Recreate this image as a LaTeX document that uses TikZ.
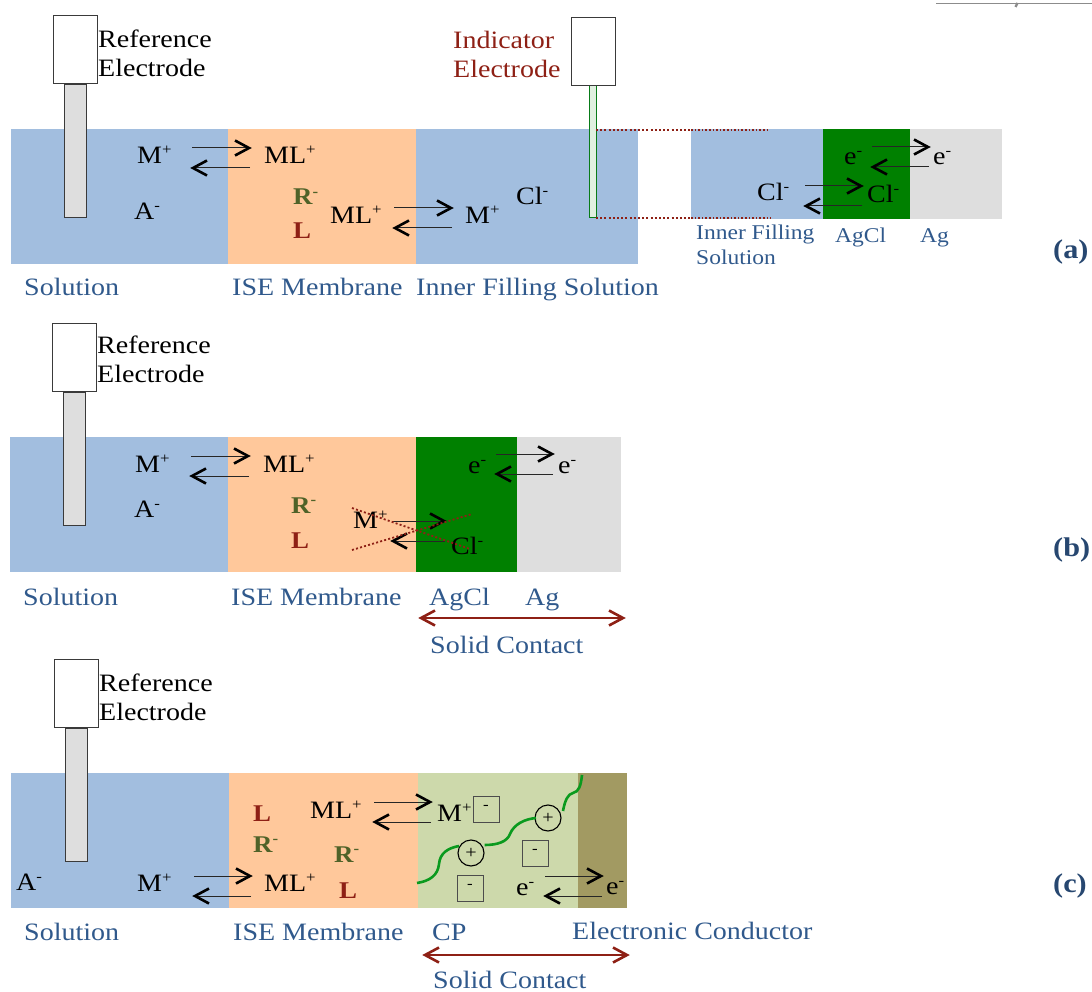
\documentclass[tikz,border=0pt]{standalone}
\usepackage{fontspec}
\setmainfont[FakeStretch=1.12]{Liberation Serif}
\definecolor{bandblue}{HTML}{A2BEDF}
\definecolor{bandorange}{HTML}{FFC89B}
\definecolor{bandgreen}{HTML}{008000}
\definecolor{bandgray}{HTML}{DEDEDE}
\definecolor{bandcp}{HTML}{CDD9AB}
\definecolor{bandolive}{HTML}{A29A62}
\definecolor{lblblue}{HTML}{30598C}
\definecolor{darkred}{HTML}{8E2015}
\definecolor{rgreen}{HTML}{4F6228}
\definecolor{curvegreen}{HTML}{0A9A1E}
\definecolor{inkgray}{HTML}{3A3A3A}
\newcommand{\ionsup}[1]{\raisebox{0.36em}{\fontsize{15}{15}\selectfont #1}}
\newcommand{\T}[5]{\node[txt,#2] (#1) at (#3,#4) {#5};}
% chevron head: coordinate, direction (-1 = points right, 1 = points left), style
\newcommand{\chev}[3]{\draw[#3] ([shift={(#2*14,-7.5)}]#1) -- (#1) -- ([shift={(#2*14,7.5)}]#1);}
\newcommand{\rxn}[5]{%
  \coordinate (#1-a) at (#2,#4); \coordinate (#1-b) at (#3,#4);
  \coordinate (#1-c) at (#3+1,#5); \coordinate (#1-d) at (#2+1,#5);
  \draw[eqline] (#1-a) -- (#1-b);
  \chev{#1-b}{-1}{eqhead}
  \draw[eqline] (#1-c) -- (#1-d);
  \chev{#1-d}{1}{eqhead}}
\newcommand{\electrode}[5]{%
  \node[headbox,minimum width=44pt,minimum height=68pt,anchor=north west] (#1-head) at (#2,#3) {};
  \node[stembox,minimum width=22pt,minimum height=#4pt,anchor=north] (#1-stem) at (#1-head.south) {};
  \node[lbltxt,text=black,anchor=west,align=left,font=\fontsize{25}{29}\selectfont] (#1-label) at (#2+45,#3+#5) {Reference\\Electrode};}
\newcommand{\minusbox}[3]{\node[chargebox] (#1) at (#2,#3) {\raisebox{3pt}{\fontsize{15}{15}\selectfont -}};}
\newcommand{\plusring}[3]{\node[chargering] (#1) at (#2,#3) {\fontsize{18}{18}\selectfont +};}
\tikzset{
  txt/.style={anchor=base west,inner sep=0pt,font=\fontsize{25}{29}\selectfont,text=black},
  lbltxt/.style={anchor=base west,inner sep=0pt,font=\fontsize{25}{29}\selectfont,text=lblblue},
  lblsmall/.style={lbltxt,font=\fontsize{21}{25}\selectfont},
  rion/.style={font=\fontsize{24}{29}\selectfont\bfseries,text=rgreen},
  lion/.style={font=\fontsize{24}{29}\selectfont\bfseries,text=darkred},
  panel/.style={anchor=base west,inner sep=0pt,font=\fontsize{27}{29}\selectfont\bfseries,text=lblblue!80!black},
  eqline/.style={line width=1pt,draw=black!85},
  eqhead/.style={line width=2.6pt,draw=black,line join=miter},
  sizeline/.style={line width=2.6pt,draw=darkred},
  sizehead/.style={line width=2.6pt,draw=darkred,line join=miter},
  headbox/.style={draw=inkgray,fill=white,line width=1.2pt,inner sep=0pt},
  stembox/.style={draw=inkgray,fill=bandgray,line width=1.2pt,inner sep=0pt},
  reddots/.style={draw=darkred,line width=2.2pt,dash pattern=on 2pt off 2.2pt},
  reddotsthin/.style={draw=darkred,line width=1.2pt,dash pattern=on 1.6pt off 2pt},
  chargebox/.style={draw=black!70,line width=0.9pt,minimum size=26pt,inner sep=0pt},
  chargering/.style={circle,draw=black,line width=1.1pt,minimum size=26pt,inner sep=0pt},
  cpcurve/.style={draw=curvegreen,line width=2.6pt},
}
\begin{document}
\begin{tikzpicture}[x=1pt,y=-1pt]
\useasboundingbox (0,0) rectangle (1092,992);
% panel (a) bands
\fill[bandblue] (11,129) rectangle (228,264);
\fill[bandorange] (228,129) rectangle (416,264);
\fill[bandblue] (416,129) rectangle (638,264);
\fill[bandblue] (691,129) rectangle (823,219);
\fill[bandgreen] (823,129) rectangle (910,219);
\fill[bandgray] (910,129) rectangle (1002,219);
% panel (b) bands
\fill[bandblue] (10,437) rectangle (228,572);
\fill[bandorange] (228,437) rectangle (416,572);
\fill[bandgreen] (416,437) rectangle (517,572);
\fill[bandgray] (517,437) rectangle (621,572);
% panel (c) bands
\fill[bandblue] (11,773) rectangle (229,908);
\fill[bandorange] (229,773) rectangle (418,908);
\fill[bandcp] (418,773) rectangle (578,908);
\fill[bandolive] (578,773) rectangle (627,908);
% corner fragment
\draw[draw=black!45,line width=1.6pt] (936,3.5) -- (1092,3.5);
\draw[draw=black!45,line width=2.4pt] (1017.5,3) -- (1015.5,7);
% (a) electrodes
\electrode{refa}{53}{15}{133}{38}
\node[stembox,draw=curvegreen!80!black,fill=bandgreen!12,minimum width=6.5pt,minimum height=132pt,anchor=north] (inda-stem) at (593,85) {};
\node[headbox,minimum width=44pt,minimum height=68pt,anchor=north west] (inda-head) at (571,17) {};
\node[lbltxt,text=darkred,anchor=west,align=left] (inda-label) at (453,54) {Indicator\\Electrode};
% (a) dotted zoom lines
\coordinate (za) at (596,130); \coordinate (zb) at (691,130); \coordinate (zc) at (770,130);
\coordinate (zd) at (596,218); \coordinate (ze) at (691,218); \coordinate (zf) at (771,218);
\draw[reddots] (za) -- (zb); \draw[reddotsthin] (zb) -- (zc);
\draw[reddots] (zd) -- (ze); \draw[reddotsthin] (ze) -- (zf);
% (a) species
\T{a1}{}{137}{164}{M\ionsup{+}}
\T{a2}{}{264}{164}{ML\ionsup{+}}
\rxn{ra1}{192}{249}{148}{168}
\T{a3}{}{134}{220}{A\ionsup{-}}
\T{a4}{rion}{293}{205}{R\ionsup{-}}
\T{a5}{lion}{293}{239}{L}
\T{a6}{}{330}{224}{ML\ionsup{+}}
\rxn{ra2}{394}{451}{208}{228}
\T{a7}{}{465}{224}{M\ionsup{+}}
\T{a8}{}{516}{205}{Cl\ionsup{-}}
\T{a9}{}{757}{201}{Cl\ionsup{-}}
\rxn{ra3}{805}{861}{186}{206}
\T{a10}{}{867}{203}{Cl\ionsup{-}}
\T{a11}{}{844}{165}{e\ionsup{-}}
\rxn{ra4}{872}{928}{147}{167}
\T{a12}{}{933}{165}{e\ionsup{-}}
% (a) labels
\node[lbltxt] (a-l1) at (24,296) {Solution};
\node[lbltxt] (a-l2) at (232,296) {ISE Membrane};
\node[lbltxt] (a-l3) at (416,296) {Inner Filling Solution};
\node[lblsmall,anchor=north west,align=left] (a-l4) at (696,225) {Inner Filling\\Solution};
\node[lblsmall] (a-l5) at (835,243) {AgCl};
\node[lblsmall] (a-l6) at (920,243) {Ag};
\node[panel] (a-p) at (1053,259) {(a)};
% (b)
\electrode{refb}{52}{323}{133}{36}
\T{b1}{}{135}{472}{M\ionsup{+}}
\T{b2}{}{263}{472}{ML\ionsup{+}}
\rxn{rb1}{191}{248}{456}{476}
\T{b3}{}{134}{517}{A\ionsup{-}}
\T{b4}{rion}{291}{513}{R\ionsup{-}}
\T{b5}{lion}{291}{548}{L}
\T{b6}{}{353}{528}{M\ionsup{+}}
\rxn{rb2}{392}{444}{521}{541}
\T{b7}{}{451}{554}{Cl\ionsup{-}}
\T{b8}{}{468}{473}{e\ionsup{-}}
\rxn{rb3}{496}{552}{454}{474}
\T{b9}{}{558}{473}{e\ionsup{-}}
\coordinate (xa) at (352,508); \coordinate (xb) at (470,549);
\coordinate (xc) at (352,550); \coordinate (xd) at (472,514);
\draw[reddots,line width=1.8pt] (xa) -- (xb);
\draw[reddots,line width=1.8pt] (xc) -- (xd);
\node[lbltxt] (b-l1) at (23,605) {Solution};
\node[lbltxt] (b-l2) at (231,605) {ISE Membrane};
\node[lbltxt] (b-l3) at (429,605) {AgCl};
\node[lbltxt] (b-l4) at (525,605) {Ag};
\coordinate (sa) at (421,618); \coordinate (sb) at (623,618);
\draw[sizeline] (sa) -- (sb);
\chev{sa}{1}{sizehead}
\chev{sb}{-1}{sizehead}
\node[lbltxt] (b-l5) at (430,653) {Solid Contact};
\node[panel] (b-p) at (1053,556) {(b)};
% (c)
\electrode{refc}{54}{659}{133}{38}
\T{c1}{}{16}{890}{A\ionsup{-}}
\T{c2}{}{137}{891}{M\ionsup{+}}
\T{c3}{}{264}{891}{ML\ionsup{+}}
\rxn{rc1}{194}{250}{876}{896}
\T{c4}{lion}{253}{821}{L}
\T{c5}{rion}{253}{852}{R\ionsup{-}}
\T{c6}{}{310}{818}{ML\ionsup{+}}
\rxn{rc2}{374}{430}{802}{822}
\T{c7}{}{437}{821}{M\ionsup{+}}
\T{c8}{rion}{334}{862}{R\ionsup{-}}
\T{c9}{lion}{339}{898}{L}
\T{c10}{}{516}{895}{e\ionsup{-}}
\rxn{rc3}{545}{601}{876}{896}
\T{c11}{}{606}{894}{e\ionsup{-}}
\minusbox{m1}{486}{809}
\minusbox{m2}{535}{853}
\minusbox{m3}{470}{888}
\plusring{p1}{471}{853}
\plusring{p2}{548}{818}
\coordinate (w0) at (417,883); \coordinate (w1) at (582,775); \coordinate (w2) at (563,811);
\draw[cpcurve] (w0) .. controls (430,881) and (438,875) .. (439,864) .. controls (440,853) and (448,848) .. (459,846);
\draw[cpcurve] (p1.east) ++(0,-8) .. controls (497,845) and (507,842) .. (510,834) .. controls (514,824) and (525,819) .. (536,818);
\draw[cpcurve] (w2) .. controls (565,800) and (568,794) .. (573,793) .. controls (579,792) and (581,785) .. (w1);
\node[lbltxt] (c-l1) at (24,940) {Solution};
\node[lbltxt] (c-l2) at (233,940) {ISE Membrane};
\node[lbltxt] (c-l3) at (432,940) {CP};
\node[lbltxt] (c-l4) at (572,939) {Electronic Conductor};
\coordinate (ta) at (425,955); \coordinate (tb) at (627,955);
\draw[sizeline] (ta) -- (tb);
\chev{ta}{1}{sizehead}
\chev{tb}{-1}{sizehead}
\node[lbltxt] (c-l5) at (433,988.5) {Solid Contact};
\node[panel] (c-p) at (1053,892) {(c)};
\end{tikzpicture}
\end{document}
